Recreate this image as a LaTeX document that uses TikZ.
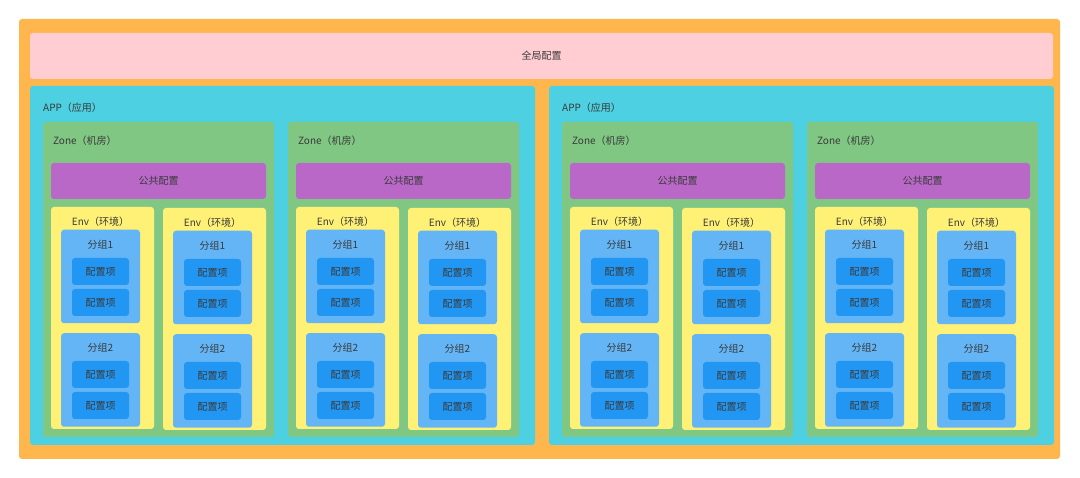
\documentclass[tikz,border=0pt]{standalone}
\usepackage{fontspec}
\setmainfont{Noto Sans CJK SC}
\definecolor{framecol}{HTML}{FFB74D}
\definecolor{globalcol}{HTML}{FFCDD2}
\definecolor{appcol}{HTML}{4DD0E1}
\definecolor{zonecol}{HTML}{81C784}
\definecolor{commoncol}{HTML}{BA68C8}
\definecolor{envcol}{HTML}{FFF176}
\definecolor{groupcol}{HTML}{64B5F6}
\definecolor{itemcol}{HTML}{2196F3}
\definecolor{txtcol}{HTML}{3A3A3A}

\begin{document}
\begin{tikzpicture}[x=1pt, y=1pt]
  \tikzstyle{every node}+=[inner sep=0pt, text=txtcol, font=\fontsize{10}{12}\selectfont]
  \tikzstyle{box}=[rectangle, rounded corners=3pt]
  \tikzstyle{framebox}=[box, fill=framecol, minimum width=1041pt, minimum height=440pt]
  \tikzstyle{globalbox}=[box, fill=globalcol, minimum width=1023pt, minimum height=46pt]
  \tikzstyle{appbox}=[box, fill=appcol, minimum width=505pt, minimum height=359pt]
  \tikzstyle{zonebox}=[box, fill=zonecol, minimum width=231pt, minimum height=315pt]
  \tikzstyle{commonbox}=[box, fill=commoncol, minimum width=215pt, minimum height=36pt]
  \tikzstyle{envbox}=[box, fill=envcol, minimum width=103pt, minimum height=222pt]
  \tikzstyle{groupbox}=[box, fill=groupcol, minimum width=79pt, minimum height=93.5pt]
  \tikzstyle{itembox}=[box, fill=itemcol, minimum width=57pt, minimum height=27pt]
  \useasboundingbox (0,0) rectangle (1080,-478);
  \node [framebox] (frame) at (539.5,-239) {};
  \node [globalbox] (global) at (541.5,-56) {全局配置};
  \node [appbox] (app1) at (282.5,-265.5) {};
  \node [anchor=west] (app1t) at (43,-108) {APP（应用）};
  \node [appbox] (app2) at (801.5,-265.5) {};
  \node [anchor=west] (app2t) at (562,-108) {APP（应用）};
  % zone 1
  \node [zonebox] (z1) at (158.5,-279.5) {};
  \node [anchor=west] (z1t) at (53,-141) {Zone（机房）};
  \node [commonbox] (p1) at (158.5,-181) {公共配置};
  \node [envbox] (e1a) at (102.5,-318) {};
  \node (e1at) at (100.5,-222) {Env（环境）};
  \node [groupbox] (g1a1) at (100.5,-276.5) {};
  \node (g1a1t) at (100.5,-245) {分组1};
  \node [itembox] (c1a11) at (100.5,-271.5) {配置项};
  \node [itembox] (c1a12) at (100.5,-302.5) {配置项};
  \node [groupbox] (g1a2) at (100.5,-380) {};
  \node (g1a2t) at (100.5,-348) {分组2};
  \node [itembox] (c1a21) at (100.5,-374.5) {配置项};
  \node [itembox] (c1a22) at (100.5,-405.5) {配置项};
  \node [envbox] (e1b) at (214.5,-319) {};
  \node (e1bt) at (212.5,-223) {Env（环境）};
  \node [groupbox] (g1b1) at (212.5,-277.5) {};
  \node (g1b1t) at (212.5,-246) {分组1};
  \node [itembox] (c1b11) at (212.5,-272.5) {配置项};
  \node [itembox] (c1b12) at (212.5,-303.5) {配置项};
  \node [groupbox] (g1b2) at (212.5,-381) {};
  \node (g1b2t) at (212.5,-349) {分组2};
  \node [itembox] (c1b21) at (212.5,-375.5) {配置项};
  \node [itembox] (c1b22) at (212.5,-406.5) {配置项};
  % zone 2
  \node [zonebox] (z2) at (403.5,-279.5) {};
  \node [anchor=west] (z2t) at (298,-141) {Zone（机房）};
  \node [commonbox] (p2) at (403.5,-181) {公共配置};
  \node [envbox] (e2a) at (347.5,-318) {};
  \node (e2at) at (345.5,-222) {Env（环境）};
  \node [groupbox] (g2a1) at (345.5,-276.5) {};
  \node (g2a1t) at (345.5,-245) {分组1};
  \node [itembox] (c2a11) at (345.5,-271.5) {配置项};
  \node [itembox] (c2a12) at (345.5,-302.5) {配置项};
  \node [groupbox] (g2a2) at (345.5,-380) {};
  \node (g2a2t) at (345.5,-348) {分组2};
  \node [itembox] (c2a21) at (345.5,-374.5) {配置项};
  \node [itembox] (c2a22) at (345.5,-405.5) {配置项};
  \node [envbox] (e2b) at (459.5,-319) {};
  \node (e2bt) at (457.5,-223) {Env（环境）};
  \node [groupbox] (g2b1) at (457.5,-277.5) {};
  \node (g2b1t) at (457.5,-246) {分组1};
  \node [itembox] (c2b11) at (457.5,-272.5) {配置项};
  \node [itembox] (c2b12) at (457.5,-303.5) {配置项};
  \node [groupbox] (g2b2) at (457.5,-381) {};
  \node (g2b2t) at (457.5,-349) {分组2};
  \node [itembox] (c2b21) at (457.5,-375.5) {配置项};
  \node [itembox] (c2b22) at (457.5,-406.5) {配置项};
  % zone 3
  \node [zonebox] (z3) at (677.5,-279.5) {};
  \node [anchor=west] (z3t) at (572,-141) {Zone（机房）};
  \node [commonbox] (p3) at (677.5,-181) {公共配置};
  \node [envbox] (e3a) at (621.5,-318) {};
  \node (e3at) at (619.5,-222) {Env（环境）};
  \node [groupbox] (g3a1) at (619.5,-276.5) {};
  \node (g3a1t) at (619.5,-245) {分组1};
  \node [itembox] (c3a11) at (619.5,-271.5) {配置项};
  \node [itembox] (c3a12) at (619.5,-302.5) {配置项};
  \node [groupbox] (g3a2) at (619.5,-380) {};
  \node (g3a2t) at (619.5,-348) {分组2};
  \node [itembox] (c3a21) at (619.5,-374.5) {配置项};
  \node [itembox] (c3a22) at (619.5,-405.5) {配置项};
  \node [envbox] (e3b) at (733.5,-319) {};
  \node (e3bt) at (731.5,-223) {Env（环境）};
  \node [groupbox] (g3b1) at (731.5,-277.5) {};
  \node (g3b1t) at (731.5,-246) {分组1};
  \node [itembox] (c3b11) at (731.5,-272.5) {配置项};
  \node [itembox] (c3b12) at (731.5,-303.5) {配置项};
  \node [groupbox] (g3b2) at (731.5,-381) {};
  \node (g3b2t) at (731.5,-349) {分组2};
  \node [itembox] (c3b21) at (731.5,-375.5) {配置项};
  \node [itembox] (c3b22) at (731.5,-406.5) {配置项};
  % zone 4
  \node [zonebox] (z4) at (922.5,-279.5) {};
  \node [anchor=west] (z4t) at (817,-141) {Zone（机房）};
  \node [commonbox] (p4) at (922.5,-181) {公共配置};
  \node [envbox] (e4a) at (866.5,-318) {};
  \node (e4at) at (864.5,-222) {Env（环境）};
  \node [groupbox] (g4a1) at (864.5,-276.5) {};
  \node (g4a1t) at (864.5,-245) {分组1};
  \node [itembox] (c4a11) at (864.5,-271.5) {配置项};
  \node [itembox] (c4a12) at (864.5,-302.5) {配置项};
  \node [groupbox] (g4a2) at (864.5,-380) {};
  \node (g4a2t) at (864.5,-348) {分组2};
  \node [itembox] (c4a21) at (864.5,-374.5) {配置项};
  \node [itembox] (c4a22) at (864.5,-405.5) {配置项};
  \node [envbox] (e4b) at (978.5,-319) {};
  \node (e4bt) at (976.5,-223) {Env（环境）};
  \node [groupbox] (g4b1) at (976.5,-277.5) {};
  \node (g4b1t) at (976.5,-246) {分组1};
  \node [itembox] (c4b11) at (976.5,-272.5) {配置项};
  \node [itembox] (c4b12) at (976.5,-303.5) {配置项};
  \node [groupbox] (g4b2) at (976.5,-381) {};
  \node (g4b2t) at (976.5,-349) {分组2};
  \node [itembox] (c4b21) at (976.5,-375.5) {配置项};
  \node [itembox] (c4b22) at (976.5,-406.5) {配置项};
\end{tikzpicture}
\end{document}
